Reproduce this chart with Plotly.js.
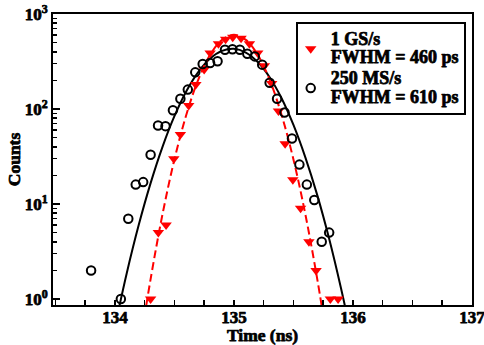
<!DOCTYPE html>
<html>
<head>
<meta charset="utf-8">
<script src="https://cdn.plot.ly/plotly-3.0.1.min.js"></script>
<style>
html,body{margin:0;padding:0;background:#fff;}
#chart{width:484px;height:345px;}
#chart svg text { font-weight: 700; stroke: #000; stroke-width: 0.75px; stroke-linejoin: round; }
</style>
</head>
<body>
<div id="chart"></div>
<script>
// 1 GS/s histogram (red triangles)
var time1G = [134.30, 134.365, 134.43, 134.495, 134.55, 134.62, 134.68, 134.75, 134.80, 134.87, 134.93, 134.99, 135.06, 135.13, 135.20, 135.256, 135.317, 135.374, 135.43, 135.495, 135.56, 135.63, 135.69, 135.81, 135.875];
var counts1G = [1, 5, 6, 30, 54, 109, 181, 260, 389, 486, 543, 570, 557, 486, 389, 286, 185, 95, 43, 18, 9, 4, 2, 1, 1];

// 250 MS/s histogram (black circles)
var time250M = [133.8, 134.05, 134.1125, 134.175, 134.2375, 134.3, 134.3625, 134.425, 134.4875, 134.55, 134.6125, 134.675, 134.7375, 134.8, 134.8625, 134.925, 134.9875, 135.05, 135.1125, 135.175, 135.2375, 135.3, 135.3625, 135.425, 135.4875, 135.55, 135.6125, 135.675, 135.7375, 135.8];
var counts250M = [2, 1, 7, 16, 17, 33, 67, 66, 97, 128, 160, 243, 298, 305, 318, 420, 426, 420, 382, 358, 293, 189, 128, 92, 49, 26, 16, 11, 4, 5];

// Gaussian fit curves
var fitTime1G = [134.2, 134.3, 134.4, 134.5, 134.6, 134.7, 134.8, 134.9, 135.0, 135.1, 135.2, 135.3, 135.4, 135.5, 135.6, 135.7, 135.8];
var fitCounts1G = [0.27, 1.62, 7.8, 29.4, 87, 203, 372, 534, 603, 534, 372, 203, 87, 29.4, 7.8, 1.62, 0.27];

var fitTime250M = [134.0, 134.1, 134.2, 134.3, 134.4, 134.5, 134.6, 134.7, 134.8, 134.9, 135.0, 135.1, 135.2, 135.3, 135.4, 135.5, 135.6, 135.7, 135.8, 135.9, 136.0];
var fitCounts250M = [0.51, 1.88, 6.0, 16.6, 40, 84, 154, 245, 340, 409, 430, 393, 312, 216, 130, 68, 31, 12.4, 4.3, 1.29, 0.34];

var xTicks = [134, 135, 136, 137];
var xTickText = ['134', '135', '136', '137'];
var yTicks = [1, 10, 100, 1000];
var yTickText = ['10<sup>0</sup>', '10<sup>1</sup>', '10<sup>2</sup>', '10<sup>3</sup>'];
var yMinor = [2,3,4,5,6,7,8,9,20,30,40,50,60,70,80,90,200,300,400,500,600,700,800,900];

var legend1G = ['1 GS/s', 'FWHM = 460 ps'];
var legend250M = ['250 MS/s', 'FWHM = 610 ps'];

var FONT = 'Liberation Serif';
function legendName(lines) {
  return lines.map(function (s) { return '<span style="font-size:18px">' + s + '</span>'; }).join('<br>');
}

var traces = [
  {x: fitTime250M, y: fitCounts250M, mode: 'lines', line: {color: 'black', width: 2, shape: 'spline'}, showlegend: false, hoverinfo: 'skip'},
  {x: fitTime1G, y: fitCounts1G, mode: 'lines', line: {color: '#ff0000', width: 2, dash: '8px,4px', shape: 'spline'}, showlegend: false, hoverinfo: 'skip'},
  {x: time1G, y: counts1G, mode: 'markers', name: legendName(legend1G),
   marker: {symbol: 'triangle-down', size: 10, color: '#ff0000'}, cliponaxis: false},
  {x: time250M, y: counts250M, mode: 'markers', name: legendName(legend250M),
   marker: {symbol: 'circle-open', size: 8.5, color: 'black', line: {width: 2, color: 'black'}}, cliponaxis: false}
];

var layout = {
  width: 484, height: 345,
  margin: {l: 53, r: 12, t: 14, b: 40},
  paper_bgcolor: 'white', plot_bgcolor: 'white',
  font: {family: FONT, color: 'black', size: 17, weight: 700},
  showlegend: true,
  legend: {
    x: 0.985, y: 0.9725, xanchor: 'right', yanchor: 'top',
    bgcolor: 'white', bordercolor: 'black', borderwidth: 2,
    font: {family: FONT, size: 14, color: 'black', weight: 700},
    traceorder: 'normal', tracegroupgap: 0, itemwidth: 30, indentation: -7
  },
  xaxis: {
    range: [133.48, 137], tickmode: 'array', tickvals: xTicks, ticktext: xTickText,
    ticklabeloverflow: 'allow', ticklabelstandoff: -4,
    ticks: 'inside', ticklen: 5, tickwidth: 1.5, tickcolor: 'black',
    minor: {dtick: 0.25, tick0: 133.5, ticks: 'inside', ticklen: 5, tickwidth: 1.5, tickcolor: 'black'},
    showline: true, linecolor: 'black', linewidth: 2, mirror: true,
    showgrid: false, zeroline: false,
    tickfont: {family: FONT, size: 17, color: 'black', weight: 700},
    title: {text: 'Time (ns)', font: {family: FONT, size: 17.5, color: 'black', weight: 700}, standoff: 0},
    automargin: false
  },
  yaxis: {
    type: 'log', range: [-0.063, 3], tickmode: 'array', tickvals: yTicks, ticktext: yTickText,
    ticks: 'inside', ticklen: 7, tickwidth: 1.5, tickcolor: 'black',
    minor: {tickmode: 'array', tickvals: yMinor, ticks: 'inside', ticklen: 4, tickwidth: 1.5, tickcolor: 'black'},
    showline: true, linecolor: 'black', linewidth: 2, mirror: true,
    showgrid: false, zeroline: false,
    tickfont: {family: FONT, size: 17, color: 'black', weight: 700},
    title: {text: 'Counts', font: {family: FONT, size: 17.5, color: 'black', weight: 700}, standoff: 0},
    automargin: false
  }
};

Plotly.newPlot('chart', traces, layout, {staticPlot: true, displayModeBar: false});
</script>
</body>
</html>
